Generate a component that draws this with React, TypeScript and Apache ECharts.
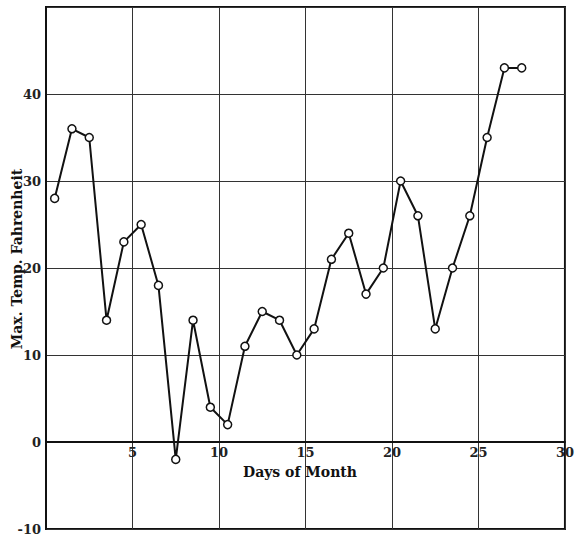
import React, { useEffect, useRef } from "react";
import * as echarts from "echarts";

const days = [1, 2, 3, 4, 5, 6, 7, 8, 9, 10, 11, 12, 13, 14, 15, 16, 17, 18, 19, 20, 21, 22, 23, 24, 25, 26, 27, 28];
const maxTemps = [28, 36, 35, 14, 23, 25, 18, -2, 14, 4, 2, 11, 15, 14, 10, 13, 21, 24, 17, 20, 30, 26, 13, 20, 26, 35, 43, 43];
const xTicks = [5, 10, 15, 20, 25, 30];
const yTicks = [-10, 0, 10, 20, 30, 40];

const FONT = "'DejaVu Serif', 'Liberation Serif', serif";

export default function App() {
  const ref = useRef<HTMLDivElement>(null);
  useEffect(() => {
    if (!ref.current) return;
    const chart = echarts.init(ref.current, null, { renderer: "svg" });
    const data = days.map((d, i) => [d - 0.5, maxTemps[i]]);
    const top = 7;
    const bottom = 10;
    const plotH = 539 - top - bottom;
    const zeroOffset = -Math.round(plotH * (10 / 60));
    chart.setOption({
      animation: false,
      backgroundColor: "#ffffff",
      grid: {
        left: 46,
        top,
        right: 6,
        bottom,
        show: true,
        borderColor: "#111",
        borderWidth: 2,
        backgroundColor: "transparent",
      },
      xAxis: {
        type: "value",
        min: 0,
        max: 30,
        interval: 5,
        offset: zeroOffset,
        axisLine: { show: true, onZero: false, lineStyle: { color: "#111", width: 2 } },
        axisTick: { show: false },
        splitLine: { show: true, lineStyle: { color: "#333", width: 1 } },
        axisLabel: {
          show: true,
          margin: 4,
          color: "#222",
          fontFamily: FONT,
          fontWeight: "bold",
          fontSize: 13,
          formatter: (v: number) => (xTicks.includes(v) ? String(v) : ""),
        },
      },
      yAxis: {
        type: "value",
        min: -10,
        max: 50,
        interval: 10,
        axisLine: { show: true, lineStyle: { color: "#111", width: 2 } },
        axisTick: { show: false },
        splitLine: { show: true, lineStyle: { color: "#333", width: 1 } },
        axisLabel: {
          show: true,
          margin: 5,
          color: "#222",
          fontFamily: FONT,
          fontWeight: "bold",
          fontSize: 13,
          formatter: (v: number) => (yTicks.includes(v) ? String(v) : ""),
        },
      },
      graphic: [
        {
          type: "text",
          left: 243,
          top: 465,
          style: {
            text: "Days of Month",
            fontFamily: FONT,
            fontWeight: "bold",
            fontSize: 14,
            fill: "#111",
          },
        },
        {
          type: "text",
          x: 17,
          y: 259,
          rotation: Math.PI / 2,
          style: {
            text: "Max. Temp. Fahrenheit",
            fontFamily: FONT,
            fontWeight: "bold",
            fontSize: 14,
            fill: "#111",
            align: "center",
            verticalAlign: "middle",
          },
        },
      ],
      series: [
        {
          type: "line",
          data,
          symbol: "circle",
          symbolSize: 8,
          lineStyle: { color: "#111", width: 2 },
          itemStyle: { color: "#fff", borderColor: "#111", borderWidth: 1.5 },
          z: 5,
        },
      ],
    });
    return () => chart.dispose();
  }, []);
  return <div ref={ref} style={{ width: 577, height: 539, position: "absolute", left: 0, top: 0 }} />;
}
